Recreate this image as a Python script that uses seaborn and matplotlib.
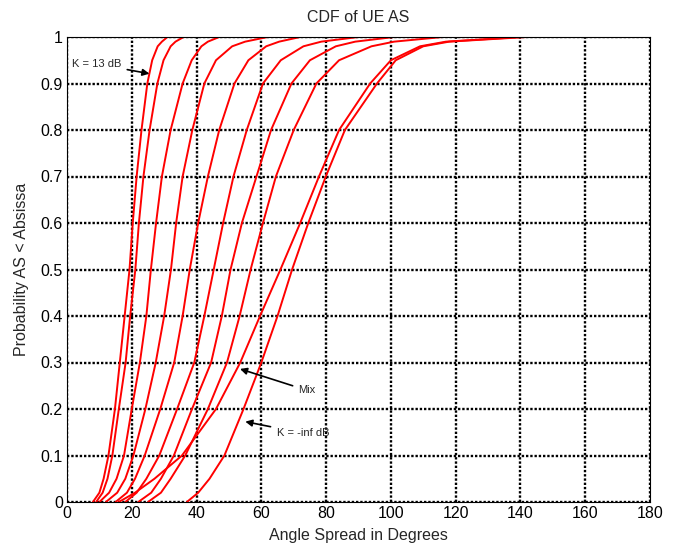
import matplotlib
matplotlib.use("Agg")
import matplotlib.pyplot as plt
import seaborn as sns
import pandas as pd

# CDF probability levels (y) and angle spread values (x) for each curve
p_levels = [0.0, 0.02, 0.05, 0.1, 0.2, 0.3, 0.4, 0.5, 0.6, 0.7, 0.8, 0.9,
            0.95, 0.98, 0.99, 1.0]

k13 = [8, 10, 11.3, 12.8, 14.8, 16.3, 17.8, 19.3, 20.3, 21.5, 23, 24.8, 26.3, 28, 29.3, 31]
c2 = [9, 11, 12.5, 14, 16, 18.1, 19.5, 21.1, 22.2, 23.6, 25.5, 27.9, 29.8, 32, 33.5, 36]
c3 = [10, 13, 15.3, 17.6, 20, 22.5, 24.5, 25.9, 27.5, 29.3, 32, 35.7, 38.5, 41.5, 43.5, 47]
c4 = [12, 15.5, 18, 20.5, 24.2, 27.4, 30, 32.1, 33.7, 35.7, 38.7, 42.4, 46, 51, 55, 62]
c5 = [15, 18.5, 21, 24, 28.8, 33.1, 35.7, 37.9, 40.5, 43.5, 47, 51.7, 56, 61.5, 65.5, 72]
c6 = [18, 21.5, 24.5, 28.5, 34, 39.3, 42.4, 45.3, 48.2, 51.4, 55.5, 60.5, 66, 73, 78.5, 90]
c7 = [22, 26, 29, 33, 38.6, 44.5, 47.8, 50.5, 54, 58.5, 63, 69.3, 75, 83, 89, 101]
c8 = [25, 29, 32, 36.5, 43.5, 49.4, 53.3, 56.7, 60.5, 64.5, 70, 77, 84, 94, 101, 116]
mix = [16, 21, 27, 35.5, 46, 53.5, 59.6, 65.9, 72, 77.8, 84, 93.6, 100, 109, 117, 140]
kinf = [37, 40.5, 44, 48.6, 54.5, 60, 65, 69.5, 74.5, 79.9, 85.8, 95.7, 101.5, 110, 118, 142]

curves = {"K = 13 dB": k13, "c2": c2, "c3": c3, "c4": c4, "c5": c5,
          "c6": c6, "c7": c7, "c8": c8, "Mix": mix, "K = -inf dB": kinf}

rows = []
for name, xs in curves.items():
    for i, (x, p) in enumerate(zip(xs, p_levels)):
        rows.append({"curve": name, "order": i, "angle": x, "prob": p})
df = pd.DataFrame(rows)

x_ticks = [0, 20, 40, 60, 80, 100, 120, 140, 160, 180]
y_ticks = [0, 0.1, 0.2, 0.3, 0.4, 0.5, 0.6, 0.7, 0.8, 0.9, 1]
y_labels = ["0", "0.1", "0.2", "0.3", "0.4", "0.5", "0.6", "0.7", "0.8", "0.9", "1"]

sns.set_style("white")
plt.rcParams["font.family"] = ["Liberation Sans", "DejaVu Sans"]

fig = plt.figure(figsize=(6.81, 5.53), dpi=100)
ax = fig.add_axes([67 / 681, 1 - 502 / 553, (650 - 67) / 681, (502 - 37) / 553])

sns.lineplot(data=df, x="angle", y="prob", hue="curve",
             palette=["red"] * len(curves), sort=False, estimator=None,
             linewidth=1.4, legend=False, ax=ax)

ax.set_xlim(0, 180)
ax.set_ylim(0, 1)
ax.set_xticks(x_ticks)
ax.set_yticks(y_ticks)
ax.set_xticklabels([str(t) for t in x_ticks])
ax.set_yticklabels(y_labels)
ax.tick_params(direction="in", length=4, labelsize=11.5, colors="black", pad=3)
ax.grid(True, color="black", linestyle=(0, (1, 0.8)), linewidth=1.7)
for s in ax.spines.values():
    s.set_color("black")
    s.set_linewidth(0.8)

ax.set_title("CDF of UE AS", fontsize=11.5, pad=11)
ax.set_xlabel("Angle Spread in Degrees", fontsize=11.5, labelpad=5)
ax.set_ylabel("Probability AS < Absissa", fontsize=11.5, labelpad=8)

arrow = dict(arrowstyle="-|>", color="black", lw=1.2, mutation_scale=10)
ax.annotate("K = 13 dB", xy=(26.3, 0.92), xytext=(1.5, 0.942), fontsize=8,
            va="center", ha="left", arrowprops=arrow)
ax.annotate("Mix", xy=(52.6, 0.288), xytext=(71.5, 0.24), fontsize=8,
            va="center", ha="left", arrowprops=arrow)
ax.annotate("K = -inf dB", xy=(54.2, 0.174), xytext=(64.7, 0.148), fontsize=8,
            va="center", ha="left", arrowprops=arrow)

fig.savefig("out.png", dpi=100)
